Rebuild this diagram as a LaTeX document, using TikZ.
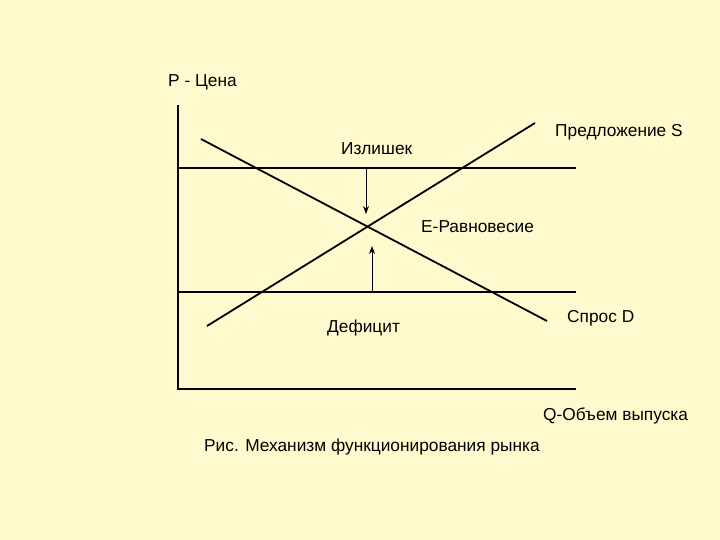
\documentclass[tikz,border=0pt]{standalone}
\usepackage{fontspec}
\setmainfont{Liberation Sans}
\usetikzlibrary{arrows.meta}
\definecolor{bgyellow}{RGB}{255,250,205}
\begin{document}
\begin{tikzpicture}[x=1pt,y=-1pt,
  lbl/.style={anchor=base west,inner sep=0pt,font=\fontsize{17.3}{19}\selectfont},
  ln/.style={line width=1.8pt,black},
  thin/.style={line width=1.1pt,black},
  arr/.style={line width=1pt,-{Stealth[length=8pt,width=6pt]}}]
\fill[bgyellow] (0,0) rectangle (720,540);
\useasboundingbox (0,0) rectangle (720,540);
% axes
\coordinate (ytop) at (178,105);
\coordinate (orig) at (178,389);
\coordinate (xend) at (576,389);
\draw[thin] (ytop) -- (orig) -- (xend);
% price levels
\coordinate (hiL) at (178,168);
\coordinate (hiR) at (576,168);
\coordinate (loL) at (178,292);
\coordinate (loR) at (576,292);
\draw[thin] (hiL) -- (hiR);
\draw[thin] (loL) -- (loR);
% supply and demand
\coordinate (sA) at (207,326);
\coordinate (sB) at (535,123);
\coordinate (dA) at (201,139);
\coordinate (dB) at (547,321);
\draw[ln] (sA) -- (sB);
\draw[ln] (dA) -- (dB);
% arrows
\coordinate (a1s) at (366,168);
\coordinate (a1e) at (366,214);
\coordinate (a2s) at (372,292);
\coordinate (a2e) at (372,246);
\draw[arr] (a1s) -- (a1e);
\draw[arr] (a2s) -- (a2e);
% labels
\node[lbl] (p) at (168,87) {P - Цена};
\node[lbl] (s) at (555,137) {Предложение S};
\node[lbl] (izl) at (341,155) {Излишек};
\node[lbl] (e) at (421,233) {E-Равновесие};
\node[lbl] (d) at (567,322) {Спрос D};
\node[lbl] (def) at (327,332) {Дефицит};
\node[lbl] (q) at (543,420) {Q-Объем выпуска};
\node[lbl] (cap) at (204,451) {Рис. Механизм функционирования рынка};
\end{tikzpicture}
\end{document}
